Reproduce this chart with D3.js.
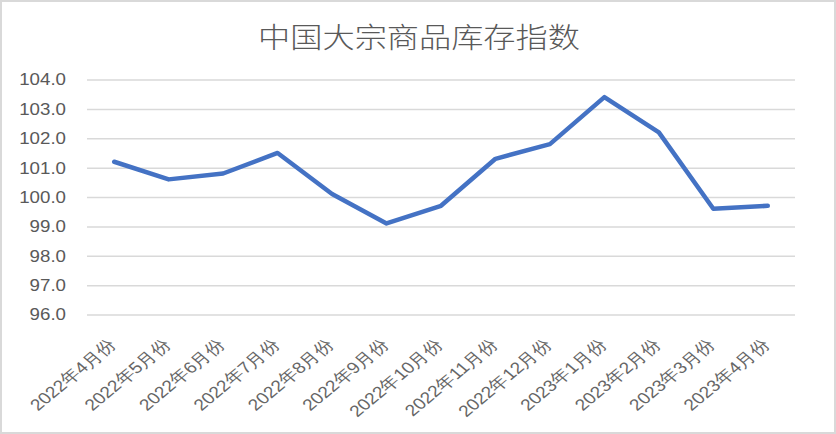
<!DOCTYPE html>
<html><head><meta charset="utf-8">
<script src="https://cdn.jsdelivr.net/npm/d3@7"></script>
<style>
html,body{margin:0;padding:0;background:#fff;}
svg{display:block;font-family:"Noto Sans CJK SC","Noto Sans",sans-serif;}
</style></head>
<body>
<script>
const title = "中国大宗商品库存指数";
const categories = ["2022年4月份","2022年5月份","2022年6月份","2022年7月份","2022年8月份","2022年9月份","2022年10月份","2022年11月份","2022年12月份","2023年1月份","2023年2月份","2023年3月份","2023年4月份"];
const values = [101.2,100.6,100.8,101.5,100.1,99.1,99.7,101.3,101.8,103.4,102.2,99.6,99.7];
const yTicks = [96,97,98,99,100,101,102,103,104];

const W = 836, H = 434;
const svg = d3.select("body").append("svg").attr("width", W).attr("height", H);
svg.append("rect").attr("x",1).attr("y",1).attr("width",W-2).attr("height",H-2)
  .attr("fill","#fff").attr("stroke","#d9d9d9").attr("stroke-width",2);

const m = {left:87, right:41, top:79.5, bottom:119.5};
const x = d3.scaleBand().domain(categories).range([m.left, W-m.right]);
const y = d3.scaleLinear().domain([96,104]).range([H-m.bottom, m.top]);

svg.append("text").attr("text-anchor","middle")
  .attr("transform","translate(419,48) scale(1.15,1)")
  .attr("font-size", 28).attr("font-weight", 300).attr("fill","#595959").text(title);

const gy = svg.append("g").attr("transform", `translate(${m.left},0)`)
  .call(d3.axisLeft(y).tickValues(yTicks).tickFormat(d3.format(".1f")).tickSize(-(W-m.left-m.right)).tickPadding(0));
gy.select(".domain").remove();
gy.selectAll(".tick line").attr("stroke","#d9d9d9").attr("stroke-width",1.5);
gy.selectAll(".tick text").attr("fill","#595959").attr("font-size",17)
  .attr("font-family","Liberation Sans, Arial, sans-serif")
  .attr("x",0).attr("transform","translate(-21,0) scale(1.1,1)");

const gx = svg.append("g").attr("transform", `translate(0,${H-m.bottom})`)
  .call(d3.axisBottom(x).tickSize(0).tickPadding(0));
gx.select(".domain").remove();
gx.selectAll(".tick text").attr("fill","#666666").attr("font-size",16)
  .attr("text-anchor","end").attr("dy",0).attr("y",0)
  .attr("transform","translate(3,31) scale(1.2,1) rotate(-45)");

const line = d3.line().x((d,i)=>x(categories[i])+x.bandwidth()/2).y(d=>y(d));
svg.append("path").datum(values).attr("d", line).attr("fill","none")
  .attr("stroke","#4472c4").attr("stroke-width",4.5).attr("stroke-linejoin","round").attr("stroke-linecap","round");
</script>
</body></html>
